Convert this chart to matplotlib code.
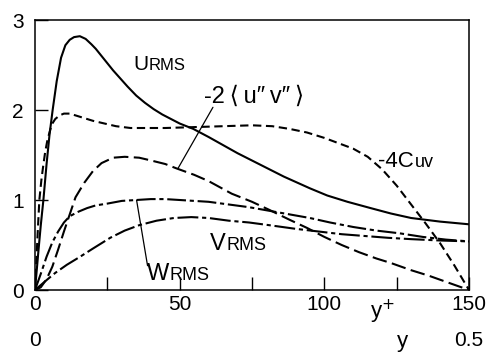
import matplotlib
matplotlib.use("Agg")
import matplotlib.pyplot as plt
from matplotlib import transforms

plt.rcParams['font.family'] = ['Liberation Sans', 'DejaVu Sans']

# Wall-normal profiles in wall units
u_x = [0, 1.2, 2.0, 2.9, 4.0, 5.0, 6.1, 7.5, 9.0, 10.5, 12, 13.5, 15.5, 17.5, 19.5, 21, 22.5,
       24.5, 27, 29.5, 32, 35, 38, 41, 44, 47, 50, 54.7, 60, 65, 70, 78, 86, 95, 101, 108,
       116, 123, 130, 140, 150]
u_rms = [0, 0.44, 0.72, 1.0, 1.40, 1.72, 2.0, 2.32, 2.58, 2.72, 2.78, 2.81, 2.82, 2.79, 2.73,
         2.68, 2.62, 2.54, 2.44, 2.35, 2.26, 2.16, 2.08, 2.01, 1.95, 1.90, 1.85, 1.79, 1.70,
         1.61, 1.52, 1.39, 1.26, 1.13, 1.05, 0.98, 0.91, 0.85, 0.80, 0.76, 0.73]

c_x = [0, 0.8, 1.5, 2.2, 2.8, 3.5, 4.2, 5, 5.8, 7, 8.5, 10, 12, 14, 17, 20, 24, 28, 33, 38,
       45, 55, 65, 75, 82, 88, 94, 100, 105, 110, 115, 120, 125, 130, 135, 140, 145, 150]
c_uv = [0, 0.55, 1.0, 1.22, 1.37, 1.53, 1.65, 1.75, 1.84, 1.90, 1.94, 1.96, 1.96, 1.94, 1.91,
        1.88, 1.85, 1.82, 1.80, 1.80, 1.80, 1.81, 1.82, 1.83, 1.82, 1.79, 1.75, 1.69, 1.63,
        1.57, 1.48, 1.34, 1.16, 0.95, 0.74, 0.52, 0.27, 0]

r_x = [0, 2, 4, 6, 8, 10, 12, 14, 17, 20, 23, 27, 31, 36, 40, 45, 49, 55, 60, 68, 75, 81, 88,
       94, 100, 106, 112, 118, 123, 130, 136, 143, 150]
uv_stress = [0, 0.03, 0.12, 0.26, 0.45, 0.65, 0.84, 1.03, 1.19, 1.32, 1.41, 1.47, 1.48, 1.47,
             1.44, 1.40, 1.35, 1.28, 1.21, 1.07, 0.98, 0.89, 0.78, 0.69, 0.59, 0.50, 0.42,
             0.35, 0.30, 0.22, 0.16, 0.08, 0]

w_x = [0, 2, 4, 6, 8, 10, 12, 15, 18, 21, 25, 30, 35, 40, 45, 50, 55, 60, 67, 74, 81, 88, 95,
       102, 110, 118, 126, 134, 142, 150]
w_rms = [0, 0.18, 0.37, 0.53, 0.65, 0.75, 0.82, 0.87, 0.91, 0.94, 0.96, 0.99, 1.00, 1.01,
         1.01, 1.00, 0.99, 0.98, 0.95, 0.92, 0.88, 0.84, 0.80, 0.75, 0.70, 0.66, 0.63, 0.59,
         0.56, 0.54]

v_x = [0, 4, 7, 11, 15.6, 20, 26, 31, 36, 42, 48, 54, 60, 67, 74, 81, 90, 98, 106, 114, 122,
       130, 140, 150]
v_rms = [0, 0.11, 0.19, 0.28, 0.37, 0.46, 0.58, 0.66, 0.72, 0.77, 0.80, 0.81, 0.80, 0.77,
         0.75, 0.72, 0.68, 0.65, 0.62, 0.60, 0.58, 0.565, 0.55, 0.54]

x_major = [0, 50, 100, 150]
x_minor = [25, 75, 125]
y_ticks = [0, 1, 2, 3]

fig = plt.figure(figsize=(4.94, 3.52), dpi=100)
ax = fig.add_axes([35 / 494, 62 / 352, 434 / 494, 270 / 352])

lw = 1.5
ax.plot(u_x, u_rms, color='black', lw=lw, solid_joinstyle='round')
ax.plot(c_x, c_uv, color='black', lw=lw, linestyle=(0, (4, 2.2)))
ax.plot(r_x, uv_stress, color='black', lw=lw, linestyle=(0, (7, 2.6)))
ax.plot(w_x, w_rms, color='black', lw=lw, linestyle=(0, (9, 1.8, 2, 1.8)))
ax.plot(v_x, v_rms, color='black', lw=lw, linestyle=(0, (10, 1.8, 2, 1.8)))

ax.set_xlim(0, 150)
ax.set_ylim(0, 3)
for s in ax.spines.values():
    s.set_linewidth(1.1)

ax.set_xticks(x_major + x_minor)
ax.set_xticklabels([str(v) for v in x_major] + [''] * len(x_minor))
ax.set_yticks(y_ticks)
ax.set_yticklabels([str(v) for v in y_ticks])
ax.tick_params(axis='both', direction='in', length=9.5, width=1.0, labelsize=15)
ax.tick_params(axis='x', pad=3.5)
ax.tick_params(axis='y', pad=8)

# second row of x labels (outer length scale)
bt = transforms.blended_transform_factory(ax.transData, ax.transAxes)
ax.text(0, -0.15, '0', transform=bt, ha='center', va='top', fontsize=15)
ax.text(150, -0.15, '0.5', transform=bt, ha='center', va='top', fontsize=15)
ax.text(127, -0.15, 'y', transform=bt, ha='center', va='top', fontsize=16)
ax.text(120, -0.03, 'y$^{+}$', transform=bt, ha='center', va='top', fontsize=16)


def label(x, y, big, small, big_size, small_size):
    t = ax.text(x, y, big, fontsize=big_size, va='baseline', ha='left')
    fig.canvas.draw()
    w = t.get_window_extent().width * 72 / fig.dpi
    ax.annotate(small, xy=(x, y), xytext=(w + 0.5, 0), textcoords='offset points',
                fontsize=small_size, va='baseline', ha='left')


label(33.9, 2.44, 'U', 'RMS', 15, 12)
label(60.5, 0.44, 'V', 'RMS', 17, 13)
label(38.7, 0.11, 'W', 'RMS', 17, 13)
label(118.7, 1.37, '-4C', 'uv', 16, 13)

ts = '\u2009'
ax.text(58.5, 2.08, '-2' + ts + '\u27e8' + ts + 'u\u2033' + ts + 'v\u2033' + ts + '\u27e9',
        fontsize=17, va='baseline', ha='left')

# leader lines
ax.annotate('', xy=(49.4, 1.35), xytext=(61.5, 2.03),
            arrowprops=dict(arrowstyle='-', lw=0.9, color='black', shrinkA=0, shrinkB=0))
ax.annotate('', xy=(35.1, 1.0), xytext=(38.9, 0.27),
            arrowprops=dict(arrowstyle='-', lw=0.9, color='black', shrinkA=0, shrinkB=0))

fig.savefig('out.png', dpi=100)
